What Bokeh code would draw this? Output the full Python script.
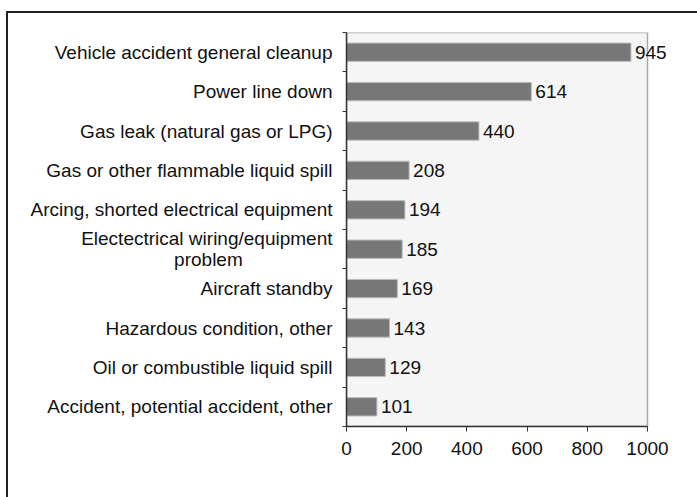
from bokeh.plotting import figure
from bokeh.models import FixedTicker, LabelSet, ColumnDataSource, Range1d
from bokeh.core.properties import value
from bokeh.embed import file_html
from bokeh.resources import INLINE

categories = [
    "Vehicle accident general cleanup",
    "Power line down",
    "Gas leak (natural gas or LPG)",
    "Gas or other flammable liquid spill",
    "Arcing, shorted electrical equipment",
    "Electectrical wiring/equipment\nproblem" + "\u00a0" * 17,
    "Aircraft standby",
    "Hazardous condition, other",
    "Oil or combustible liquid spill",
    "Accident, potential accident, other",
]
values = [945, 614, 440, 208, 194, 185, 169, 143, 129, 101]
x_ticks = [0, 200, 400, 600, 800, 1000]
x_max = 1000

n = len(categories)
ypos = [n - 0.5 - i for i in range(n)]
src = ColumnDataSource(dict(y=ypos, v=values, lab=[str(v) for v in values]))

W, H = 689, 484
ML, MR, MT, MB = 338, 10, 19, 71
frame_w = W - ML - MR
plot_px = 301.0  # pixel length of the 0..1000 scale
x_end = x_max * frame_w / plot_px

FONT = "Liberation Sans"
p = figure(width=W, height=H, output_backend="svg", toolbar_location=None,
           x_range=Range1d(0, x_end), y_range=Range1d(0, n),
           min_border_left=ML, min_border_right=MR, min_border_top=MT, min_border_bottom=MB)
p.styles = {"outline": "2px solid #222222",
            "position": "relative", "left": "8px", "top": "13px"}
p.background_fill_color = "white"
p.border_fill_color = "white"
p.outline_line_color = None
p.xgrid.visible = False
p.ygrid.visible = False

# plot area background
p.quad(left=[0], right=[x_max], bottom=[0], top=[n],
       fill_color="#f5f5f5", line_color="#a8a8a8", line_width=1.5)

p.hbar(y="y", right="v", left=0, height=0.465, source=src,
       fill_color="#777777", line_color="#bbbbbb", line_width=1)

labels = LabelSet(x="v", y="y", text="lab", source=src, x_offset=4,
                  text_baseline="middle", text_align="left",
                  text_font=value(FONT), text_font_size=value("19px"), text_color="#111111")
p.add_layout(labels)

# x axis
xa = p.xaxis[0]
xa.ticker = FixedTicker(ticks=x_ticks)
xa.bounds = (0, x_max)
xa.major_label_text_font = FONT
xa.major_label_text_font_size = "19px"
xa.major_label_text_color = "#111111"
xa.axis_line_color = "#333333"
xa.axis_line_width = 1.5
xa.major_tick_line_color = "#333333"
xa.major_tick_in = 0
xa.major_tick_out = 5
xa.minor_tick_line_color = None
xa.major_label_standoff = 10

# y axis: labels at centers, ticks at boundaries (minor ticks)
ya = p.yaxis[0]
ya.ticker = FixedTicker(ticks=ypos, minor_ticks=list(range(n + 1)))
ya.major_label_overrides = {y: c for y, c in zip(ypos, categories)}
ya.major_label_text_font = FONT
ya.major_label_text_font_size = "19px"
ya.major_label_text_color = "#111111"
ya.major_label_text_line_height = 0.98
ya.major_tick_line_color = None
ya.major_tick_in = 0
ya.major_tick_out = 4
ya.minor_tick_line_color = "#333333"
ya.minor_tick_in = 0
ya.minor_tick_out = 4
ya.axis_line_color = "#333333"
ya.axis_line_width = 1.5
ya.major_label_standoff = 10

open("out.html", "w").write(file_html(p, INLINE))
